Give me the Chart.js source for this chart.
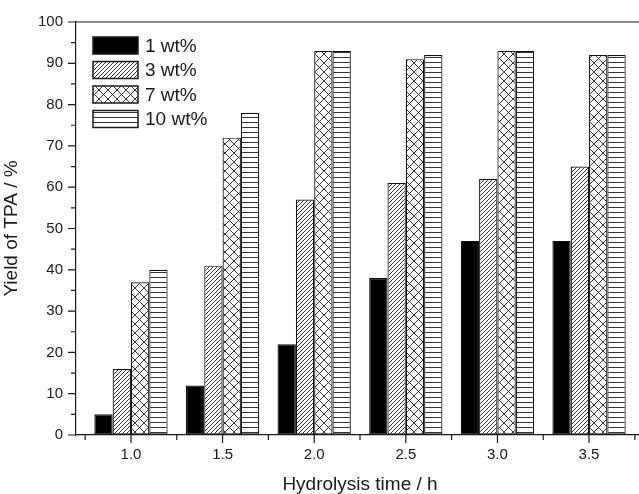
<!DOCTYPE html>
<html>
<head>
<meta charset="utf-8">
<script src="https://cdn.jsdelivr.net/npm/chart.js@4.4.1/dist/chart.umd.min.js"></script>
<style>
  html, body { margin: 0; padding: 0; background: #fff; overflow: hidden; }
  #wrap { width: 644px; height: 494px; }
</style>
</head>
<body>
<div id="wrap"><canvas id="chart"></canvas></div>
<script>
// hydrolysis time (h)
const times = [1.0, 1.5, 2.0, 2.5, 3.0, 3.5];
const seriesNames = ['1 wt%', '3 wt%', '7 wt%', '10 wt%'];
// yield of TPA (%)
const yield1 = [5, 12, 22, 38, 47, 47];
const yield3 = [16, 41, 57, 61, 62, 65];
const yield7 = [37, 72, 93, 91, 93, 92];
const yield10 = [40, 78, 93, 92, 93, 92];
const yTicks = [0, 10, 20, 30, 40, 50, 60, 70, 80, 90, 100];

const FONT = "'Liberation Sans', Arial, Helvetica, sans-serif";
const INK = '#1a1a1a';

const makePattern = (size, draw) => {
  const c = document.createElement('canvas');
  c.width = size[0];
  c.height = size[1];
  const g = c.getContext('2d');
  g.fillStyle = '#fff';
  g.fillRect(0, 0, c.width, c.height);
  draw(g, c.width, c.height);
  return document.getElementById('chart').getContext('2d').createPattern(c, 'repeat');
};

const diagonal = makePattern([4, 4], (g, w, h) => {
  g.strokeStyle = '#333';
  g.lineWidth = 1;
  g.beginPath();
  g.moveTo(-1, h + 1); g.lineTo(w + 1, -1);
  g.moveTo(-1, 1); g.lineTo(1, -1);
  g.moveTo(w - 1, h + 1); g.lineTo(w + 1, h - 1);
  g.stroke();
});

const cross = makePattern([9, 9], (g, w, h) => {
  g.strokeStyle = '#222';
  g.lineWidth = 0.9;
  g.beginPath();
  g.moveTo(0, 0); g.lineTo(w, h);
  g.moveTo(w, 0); g.lineTo(0, h);
  g.stroke();
});

const horiz = makePattern([4, 5], (g, w, h) => {
  g.strokeStyle = '#333';
  g.lineWidth = 1;
  g.beginPath();
  g.moveTo(0, 2.5); g.lineTo(w, 2.5);
  g.stroke();
});

const fills = ['#000', diagonal, cross, horiz];
const values = [yield1, yield3, yield7, yield10];

// axis frame, outward ticks and the in-plot legend
const framePlugin = {
  id: 'frame',
  afterDraw(chart) {
    const { ctx, chartArea: a, scales: { x, y } } = chart;
    ctx.save();
    ctx.strokeStyle = INK;
    ctx.lineWidth = 1.2;
    ctx.beginPath();
    ctx.moveTo(a.left, a.top); ctx.lineTo(a.right, a.top); ctx.lineTo(a.right, a.bottom);
    ctx.stroke();

    ctx.beginPath();
    yTicks.forEach((v, i) => {
      const py = y.getPixelForValue(v);
      ctx.moveTo(a.left - 8, py); ctx.lineTo(a.left, py);
      if (i < yTicks.length - 1) {
        const pm = y.getPixelForValue((v + yTicks[i + 1]) / 2);
        ctx.moveTo(a.left - 5, pm); ctx.lineTo(a.left, pm);
      }
    });
    const half = (times[1] - times[0]) / 2;
    times.forEach((t) => {
      const px = x.getPixelForValue(t);
      ctx.moveTo(px, a.bottom); ctx.lineTo(px, a.bottom + 8);
      [t - half, t + half].forEach(m => {
        const pm = x.getPixelForValue(m);
        if (pm >= a.left && pm <= a.right) {
          ctx.moveTo(pm, a.bottom); ctx.lineTo(pm, a.bottom + 5);
        }
      });
    });
    ctx.stroke();

    // legend
    const lx = a.left + 17, ly = a.top + 15, bw = 45, bh = 17, gap = 24.5;
    ctx.font = '19px ' + FONT;
    ctx.textBaseline = 'middle';
    chart.data.datasets.forEach((ds, i) => {
      const top = ly + i * gap;
      ctx.fillStyle = ds.backgroundColor;
      ctx.fillRect(lx, top, bw, bh);
      ctx.lineWidth = 1.5;
      ctx.strokeStyle = INK;
      ctx.strokeRect(lx, top, bw, bh);
      ctx.fillStyle = INK;
      ctx.fillText(ds.label, lx + bw + 7, top + bh / 2 + 1);
    });
    ctx.restore();
  }
};

new Chart(document.getElementById('chart'), {
  type: 'bar',
  data: {
    datasets: seriesNames.map((name, i) => ({
      label: name,
      data: times.map((t, j) => ({ x: t, y: values[i][j] })),
      backgroundColor: fills[i],
      borderColor: '#111',
      borderWidth: 1.2,
      borderSkipped: false,
      categoryPercentage: 0.8,
      barPercentage: 1.0
    }))
  },
  options: {
    responsive: true,
    maintainAspectRatio: false,
    animation: false,
    layout: { padding: { top: 20, left: 0, right: 0, bottom: 0 } },
    plugins: {
      legend: { display: false },
      tooltip: { enabled: false }
    },
    scales: {
      x: {
        type: 'linear',
        offset: false,
        min: 0.7,
        max: 3.8,
        afterBuildTicks: (scale) => { scale.ticks = times.map(v => ({ value: v })); },
        afterFit: (scale) => { scale.height = 59; },
        grid: { display: true, drawOnChartArea: false, drawTicks: false, offset: false },
        border: { display: true, color: INK, width: 1.2 },
        ticks: {
          padding: 11,
          color: INK,
          font: { family: FONT, size: 15 },
          maxRotation: 0,
          autoSkip: false,
          callback: (v) => Number(v).toFixed(1)
        },
        title: {
          display: true,
          text: 'Hydrolysis time / h',
          color: INK,
          font: { family: FONT, size: 19, lineHeight: 1 },
          padding: { top: 0, bottom: 0 }
        }
      },
      y: {
        min: 0,
        max: 100,
        afterBuildTicks: (scale) => { scale.ticks = yTicks.map(v => ({ value: v })); },
        afterFit: (scale) => { scale.width = 76; },
        grid: { display: true, drawOnChartArea: false, drawTicks: false },
        border: { display: true, color: INK, width: 1.2 },
        ticks: {
          padding: 13,
          color: INK,
          font: { family: FONT, size: 15 }
        },
        title: {
          display: true,
          text: 'Yield of TPA / %',
          color: INK,
          font: { family: FONT, size: 19, lineHeight: 1 },
          padding: { top: 2, bottom: 0 }
        }
      }
    }
  },
  plugins: [framePlugin]
});
</script>
</body>
</html>
